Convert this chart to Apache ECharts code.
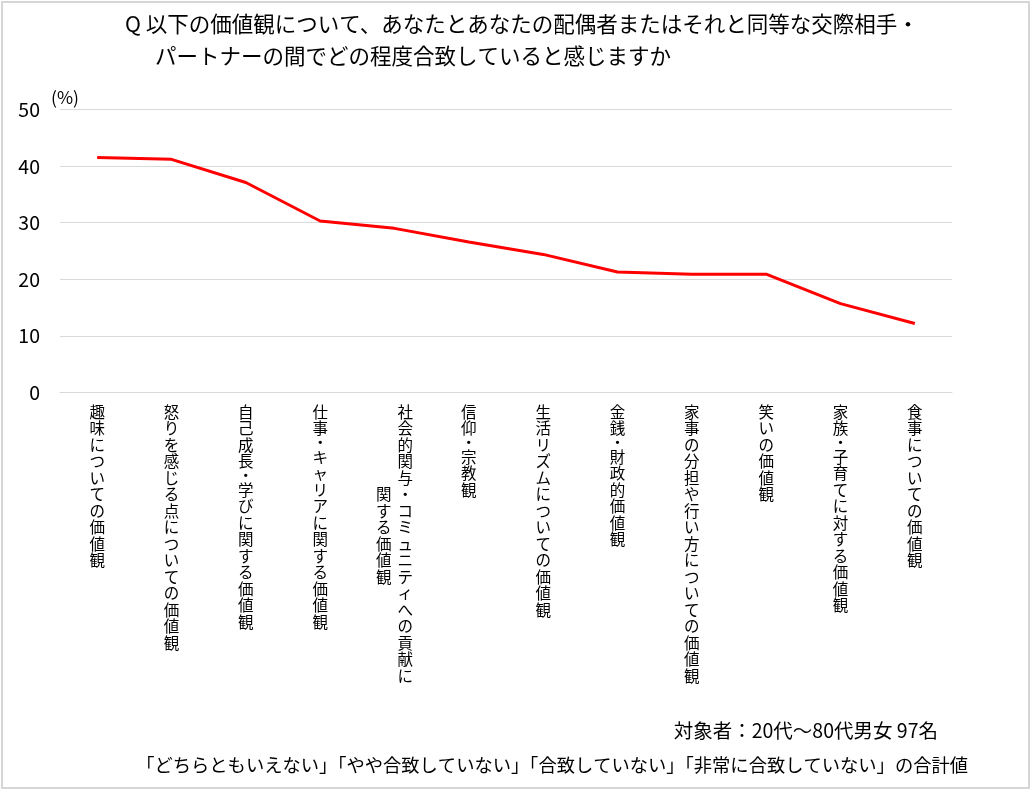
<!DOCTYPE html>
<html>
<head>
<meta charset="utf-8">
<script src="https://cdn.jsdelivr.net/npm/echarts@6/dist/echarts.min.js"></script>
<style>
  html, body { margin: 0; padding: 0; background: #fff; }
  #wrap { position: relative; width: 1032px; height: 792px; }
  #chart { position: absolute; left: 0; top: 0; width: 1032px; height: 792px; }
  #frame { position: absolute; left: 1px; top: 1px; width: 1025px; height: 784px; border: 2px solid #d6d6d6; pointer-events: none; }
</style>
</head>
<body>
<div id="wrap">
  <div id="chart"></div>
  <div id="frame"></div>
</div>
<script>
// ---- data ----
const titleLine1 = 'Q 以下の価値観について、あなたとあなたの配偶者またはそれと同等な交際相手・';
const titleLine2 = 'パートナーの間でどの程度合致していると感じますか';
const categories = [
  '趣味についての価値観',
  '怒りを感じる点についての価値観',
  '自己成長・学びに関する価値観',
  '仕事・キャリアに関する価値観',
  '社会的関与・コミュニティへの貢献に\n関する価値観',
  '信仰・宗教観',
  '生活リズムについての価値観',
  '金銭・財政的価値観',
  '家事の分担や行い方についての価値観',
  '笑いの価値観',
  '家族・子育てに対する価値観',
  '食事についての価値観'
];
const values = [41.5, 41.2, 37.1, 30.3, 29.0, 26.6, 24.4, 21.3, 20.9, 20.9, 15.7, 12.2];
const yTicks = [0, 10, 20, 30, 40, 50];
const unitLabel = '(%)';
const noteLine1 = '対象者：20代～80代男女 97名';
const noteLine2 = '「どちらともいえない」「やや合致していない」「合致していない」「非常に合致していない」の合計値';

const JP = "'Noto Sans CJK JP', 'Noto Sans', sans-serif";
const LBL = 15.5;
const LH = 16.5;

function tagChar(c) {
  return c === '・' ? '{d|・}' : c;
}

function verticalLabel(v) {
  const cols = v.split('\n');
  if (cols.length === 1) {
    return Array.from(cols[0]).map(tagChar).join('\n');
  }
  const right = Array.from(cols[0]);
  const left = Array.from(cols[1]);
  const off = Math.floor((right.length - left.length) / 2);
  const rows = [];
  for (let i = 0; i < right.length; i++) {
    const j = i - off;
    const lc = (j >= 0 && j < left.length) ? left[j] : '　';
    const rs = right[i] === '・' ? 'rd' : 'r';
    rows.push('{l|' + lc + '}{' + rs + '|' + right[i] + '}');
  }
  return rows.join('\n');
}

const chart = echarts.init(document.getElementById('chart'), null, { renderer: 'canvas' });
chart.setOption({
  backgroundColor: '#ffffff',
  animation: false,
  title: [
    { text: titleLine1, left: 120, top: 8, textStyle: { fontFamily: JP, fontSize: 21.5, fontWeight: 'normal', color: '#000' } },
    { text: titleLine2, left: 150, top: 40, textStyle: { fontFamily: JP, fontSize: 21.5, fontWeight: 'normal', color: '#000' } },
    { text: noteLine1, right: 89, top: 716, textStyle: { fontFamily: JP, fontSize: 19.5, fontWeight: 'normal', color: '#000' } },
    { text: noteLine2, right: 59, top: 751, textStyle: { fontFamily: JP, fontSize: 18.3, fontWeight: 'normal', color: '#000' } }
  ],
  grid: { left: 60, right: 80, top: 109.5, bottom: 399.5, containLabel: false },
  xAxis: {
    type: 'category',
    data: categories,
    boundaryGap: true,
    axisLine: { show: true, lineStyle: { color: '#d9d9d9', width: 1 } },
    axisTick: { show: false },
    axisLabel: {
      interval: 0,
      hideOverlap: false,
      margin: 11,
      color: '#000',
      fontFamily: JP,
      fontSize: LBL,
      lineHeight: LH,
      verticalAlign: 'top',
      formatter: verticalLabel,
      rich: {
        d: { fontFamily: JP, fontSize: LBL, lineHeight: 12, color: '#000' },
        l: { fontFamily: JP, fontSize: LBL, lineHeight: LH, color: '#000', padding: [0, 3, 0, 0] },
        r: { fontFamily: JP, fontSize: LBL, lineHeight: LH, color: '#000', padding: [0, 0, 0, 3] },
        rd: { fontFamily: JP, fontSize: LBL, lineHeight: 12, color: '#000', padding: [0, 0, 0, 3] }
      }
    }
  },
  yAxis: {
    type: 'value',
    min: yTicks[0],
    max: yTicks[yTicks.length - 1],
    interval: 10,
    name: unitLabel,
    nameLocation: 'end',
    nameGap: 3,
    nameTextStyle: { fontFamily: JP, fontSize: 17.5, color: '#000', align: 'left', padding: [0, 0, 0, -9] },
    axisLine: { show: false },
    axisTick: { show: false },
    axisLabel: { margin: 20, color: '#000', fontFamily: JP, fontSize: 19.5 },
    splitLine: { show: true, lineStyle: { color: '#d9d9d9', width: 1 } }
  },
  series: [{
    type: 'line',
    data: values,
    symbol: 'none',
    lineStyle: { color: '#ff0000', width: 3 },
    itemStyle: { color: '#ff0000' }
  }]
});
</script>
</body>
</html>
